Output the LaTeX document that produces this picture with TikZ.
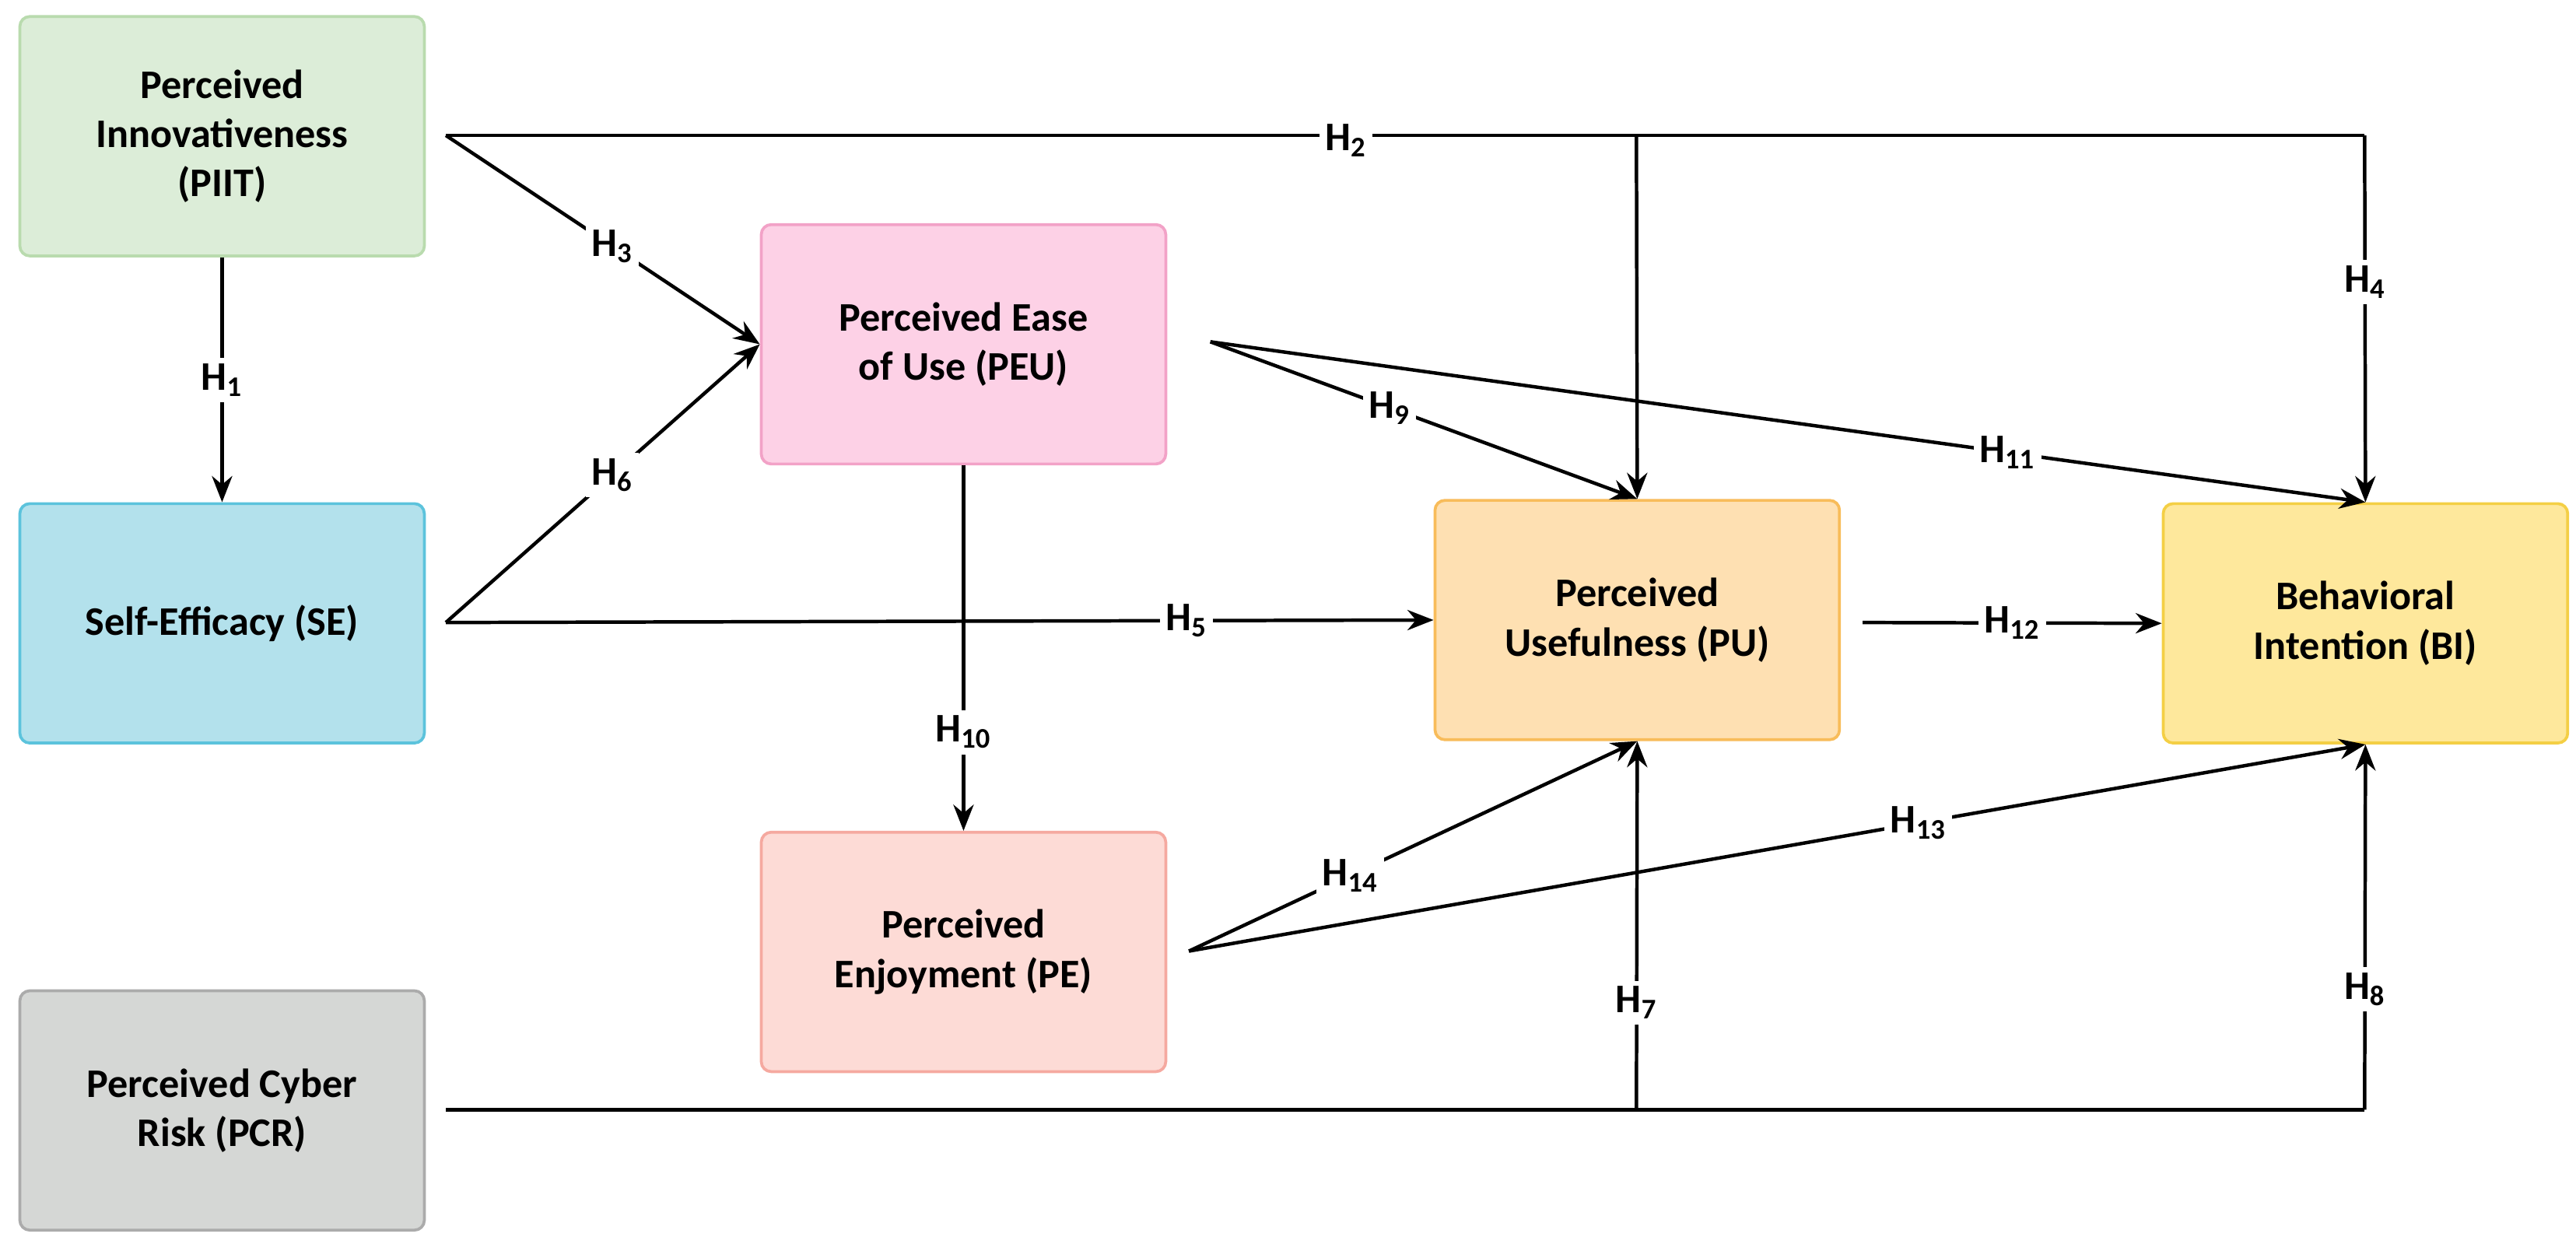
\documentclass[tikz,border=0pt]{standalone}
\usepackage{fontspec}
\setmainfont{Carlito}
\usetikzlibrary{arrows.meta}
\definecolor{gF}{HTML}{DCEDD8}\definecolor{gD}{HTML}{B9DBAE}
\definecolor{sF}{HTML}{B3E1EC}\definecolor{sD}{HTML}{5CC3DC}
\definecolor{pF}{HTML}{FDD1E6}\definecolor{pD}{HTML}{F2A2C7}
\definecolor{eF}{HTML}{FDDBD6}\definecolor{eD}{HTML}{F5A9A0}
\definecolor{uF}{HTML}{FEE0B2}\definecolor{uD}{HTML}{F8BC5A}
\definecolor{bF}{HTML}{FEE89C}\definecolor{bD}{HTML}{F4CF45}
\definecolor{cF}{HTML}{D5D7D5}\definecolor{cD}{HTML}{ABABAB}
\begin{document}
\begin{tikzpicture}[x=0.02cm,y=-0.02cm,
 box/.style={draw=#1D,fill=#1F,line width=1pt,rounded corners=0.12cm,minimum width=4.9cm,minimum height=2.9cm,align=center,font=\fontsize{14}{17}\selectfont\bfseries,inner sep=2pt},
 ln/.style={line width=1.2pt},
 ar/.style={ln,-{Stealth[length=9pt,width=7pt]}},
 lab/.style={fill=white,inner sep=2pt,font=\fontsize{14}{17}\selectfont\bfseries}]
\useasboundingbox (0,0) rectangle (1560,753);
\node[box=g] (piit) at (134.5,82.5) {Perceived\\Innovativeness\\(PIIT)};
\node[box=s] (se) at (134.5,377.5) {Self-Efficacy (SE)};
\node[box=c] (pcr) at (134.5,672.5) {Perceived Cyber\\Risk (PCR)};
\node[box=p] (peu) at (583.5,208.5) {Perceived Ease\\of Use (PEU)};
\node[box=e] (pe) at (583.5,576.5) {Perceived\\Enjoyment (PE)};
\node[box=u] (pu) at (991.5,375.5) {Perceived\\Usefulness (PU)};
\node[box=b] (bi) at (1432.5,377.5) {Behavioral\\Intention (BI)};
\coordinate (a) at (270,82);
\coordinate (b) at (270,377);
\coordinate (c) at (270,672);
\coordinate (d) at (733,207);
\coordinate (e) at (720,576);
\coordinate (f) at (1128,377);
\coordinate (j1) at (991,82);\coordinate (j2) at (1432,82);
\coordinate (k1) at (991,672);\coordinate (k2) at (1432,672);
\draw[ar] (piit.south) -- node[lab]{H\textsubscript{1}} (se.north);
\draw[ln] (a) -- (j2);
\node[lab] at (815,85) {H\textsubscript{2}};
\draw[ar] (j2) -- node[lab,pos=0.4]{H\textsubscript{4}} (bi.north);
\draw[ar] (j1) -- (pu.north);
\draw[ar] (a) -- node[lab,pos=0.53]{H\textsubscript{3}} (peu.west);
\draw[ar] (b) -- node[lab,pos=0.53]{H\textsubscript{6}} (peu.west);
\draw[ar] (b) -- node[lab,pos=0.75]{H\textsubscript{5}} (pu.west);
\draw[ar] (d) -- node[lab,pos=0.42]{H\textsubscript{9}} (pu.north);
\draw[ar] (d) -- node[lab,pos=0.69]{H\textsubscript{11}} (bi.north);
\draw[ar] (peu.south) -- node[lab,pos=0.73]{H\textsubscript{10}} (pe.north);
\draw[ar] (f) -- node[lab,pos=0.5]{H\textsubscript{12}} (bi.west);
\draw[ar] (e) -- node[lab,pos=0.36]{H\textsubscript{14}} (pu.south);
\draw[ar] (e) -- node[lab,pos=0.62]{H\textsubscript{13}} (bi.south);
\draw[ln] (c) -- (k2);
\draw[ar] (k1) -- node[lab,pos=0.29]{H\textsubscript{7}} (pu.south);
\draw[ar] (k2) -- node[lab,pos=0.33]{H\textsubscript{8}} (bi.south);
\end{tikzpicture}
\end{document}
